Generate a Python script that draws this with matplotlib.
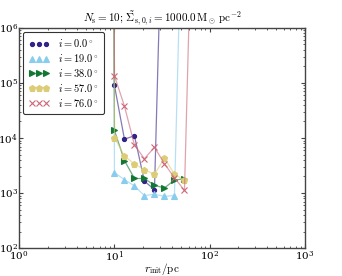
import numpy as np
import matplotlib
matplotlib.use("Agg")
import matplotlib.pyplot as plt

plt.rcParams['mathtext.fontset'] = 'cm'
plt.rcParams['font.family'] = 'serif'
plt.rcParams['font.serif'] = ['DejaVu Serif']

nan = np.nan
# r_init / pc
r_init = [7.86, 10.0, 12.73, 16.2, 20.6, 26.3, 33.5, 42.6, 54.3]

# Werte pro Inklination (sehr grosse Werte laufen oben aus dem Bild)
y_i0 = [1e60, 9.0e4, 9.5e3, 1.1e4, 1.65e3, 1.15e3, 5e9, nan, nan]
y_i19 = [1e60, 2.35e3, 1.75e3, 1.35e3, 0.9e3, 0.95e3, 0.87e3, 0.9e3, 1e10]
y_i38 = [1e60, 1.37e4, 3.9e3, 1.84e3, 1.84e3, 1.38e3, 1.24e3, 1.72e3, 1.82e3]
y_i57 = [1e60, 1.02e4, 4.7e3, 3.4e3, 2.65e3, 2.2e3, 4.3e3, 2.2e3, 1.7e3]
r_i76 = [7.86, 10.0, 12.73, 16.2, 20.6, 26.3, 33.5, 42.6, 54.3, 69.1]
y_i76 = [1e60, 1.35e5, 3.8e4, 7.5e3, 4.2e3, 6.8e3, 3.4e3, 1.9e3, 1.12e3, 8e9]

incl = ["0.0", "19.0", "38.0", "57.0", "76.0"]
colors = ["#332288", "#88CCEE", "#117733", "#DDCC77", "#CC6677"]
markers = ["o", "^", ">", "p", "x"]
msizes = [3, 5, 5, 5, 5]

fig = plt.figure(figsize=(3.42, 2.76), dpi=100)
ax = fig.add_axes([0.056, 0.101, 0.836, 0.798])

data = [(r_init, y_i0), (r_init, y_i19), (r_init, y_i38), (r_init, y_i57), (r_i76, y_i76)]
for k in range(len(data)):
    x, y = data[k]
    ax.plot(x, y, '-', color=colors[k], lw=0.9, alpha=0.6)
    ax.plot(x, y, ls='none', marker=markers[k], color=colors[k], ms=msizes[k],
            mew=0.8, label=r"$i=%s^\circ$" % incl[k])

ax.set_xscale('log')
ax.set_yscale('log')
ax.set_xlim(1, 1e3)
ax.set_ylim(1e2, 1e6)
ax.tick_params(which='both', direction='in', top=True, right=True, labelsize=7.5,
               colors='#444444', labelcolor='black', pad=0.8)
ax.tick_params(which='major', length=3)
ax.tick_params(which='minor', length=1.5)
for s in ax.spines.values():
    s.set_color('#444444')
    s.set_linewidth(1.0)

ax.set_xlabel(r"$r_{\rm init}/{\rm pc}$", fontsize=8)
ax.xaxis.set_label_coords(0.5, -0.06)
ax.set_title(r"$N_{\rm s}=10;\,\tilde{\Sigma}_{{\rm s},0,i}=1000.0\,{\rm M_\odot\,pc^{-2}}$",
             fontsize=8, pad=2)

leg = ax.legend(loc='upper left', numpoints=3, fontsize=7.5, frameon=True,
                handlelength=2.0, borderpad=0.5, labelspacing=0.28, handletextpad=0.8,
                borderaxespad=0.4)
leg.get_frame().set_edgecolor('black')
leg.get_frame().set_linewidth(0.8)

fig.savefig("out.png", dpi=100)
